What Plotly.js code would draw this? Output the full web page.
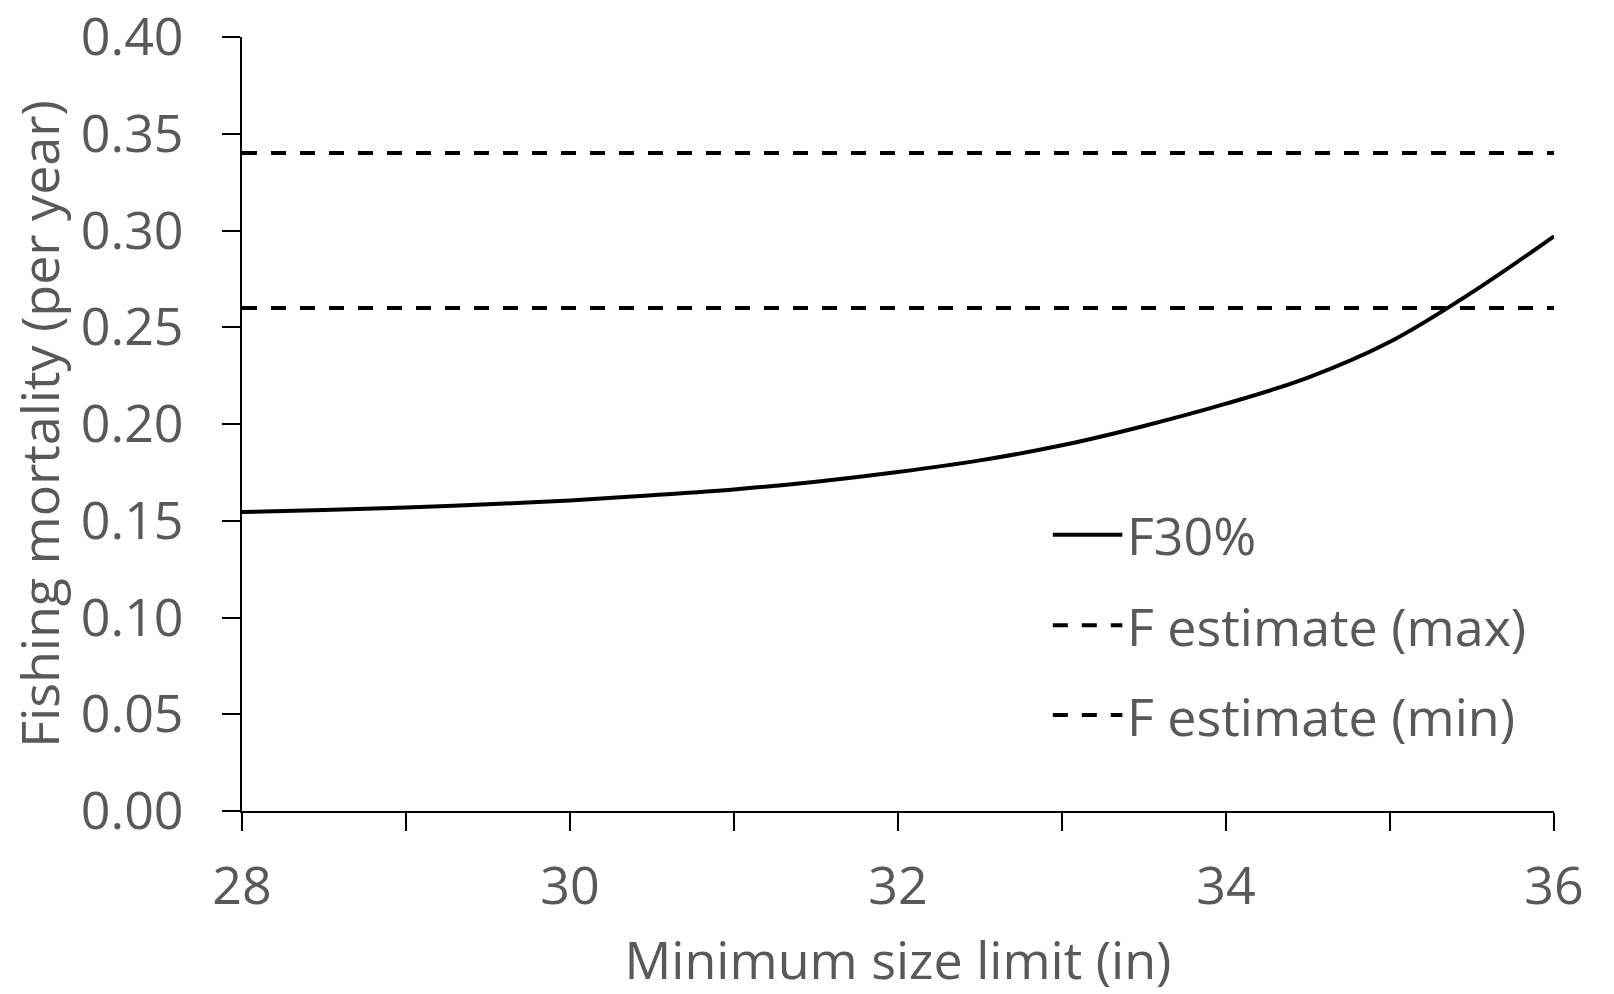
<!DOCTYPE html>
<html>
<head>
<meta charset="utf-8">
<script src="https://cdn.plot.ly/plotly-3.0.1.min.js"></script>
<style>
html,body{margin:0;padding:0;background:#fff;}
#chart{width:1614px;height:994px;}
</style>
</head>
<body>
<div id="chart"></div>
<script>
// Data
const sizeLimit = [28, 28.5, 29, 29.5, 30, 30.5, 31, 31.5, 32, 32.5, 33, 33.5, 34, 34.5, 35, 35.5, 36];
const f30 = [0.1545, 0.1555, 0.1568, 0.1585, 0.1605, 0.1632, 0.1662, 0.1702, 0.1752, 0.1812, 0.1890, 0.1990, 0.2105, 0.2240, 0.2425, 0.2680, 0.2970];
const fRange = [28, 36];
const fMax = [0.34, 0.34];
const fMin = [0.26, 0.26];
const seriesNames = ["F30%", "F estimate (max)", "F estimate (min)"];
const xTickVals = [28, 29, 30, 31, 32, 33, 34, 35, 36];
const xTickText = ["28", "", "30", "", "32", "", "34", "", "36"];
const yTickVals = [0, 0.05, 0.10, 0.15, 0.20, 0.25, 0.30, 0.35, 0.40];
const yTickText = ["0.00", "0.05", "0.10", "0.15", "0.20", "0.25", "0.30", "0.35", "0.40"];

const FONT = "Open Sans, Noto Sans, sans-serif";
const GREY = "#595959";
const FS = 52;
const DASH = "15px,14px";

const traces = [
  {x: sizeLimit, y: f30, mode: "lines", name: seriesNames[0],
   line: {color: "#000", width: 4, shape: "spline", smoothing: 1}, showlegend: false},
  {x: fRange, y: fMax, mode: "lines", name: seriesNames[1],
   line: {color: "#000", width: 4, dash: DASH}, showlegend: false},
  {x: fRange, y: fMin, mode: "lines", name: seriesNames[2],
   line: {color: "#000", width: 4, dash: DASH}, showlegend: false}
];

// custom legend (layout decoration, paper coordinates)
const legendY = [0.357, 0.24, 0.124];
const legendDash = ["solid", DASH, DASH];
const shapes = [];
const annotations = [];
seriesNames.forEach((n, i) => {
  shapes.push({type: "line", xref: "paper", yref: "paper",
    x0: 0.618, x1: 0.671, y0: legendY[i], y1: legendY[i],
    line: {color: "#000", width: 4, dash: legendDash[i]}});
  annotations.push({xref: "paper", yref: "paper", x: 0.673, y: legendY[i],
    xanchor: "left", yanchor: "middle", text: n, showarrow: false,
    font: {family: FONT, size: FS, color: GREY}});
});

const layout = {
  width: 1614, height: 994,
  margin: {l: 242, r: 60, t: 37, b: 183},
  paper_bgcolor: "#fff", plot_bgcolor: "#fff",
  font: {family: FONT, size: FS, color: GREY},
  showlegend: false,
  xaxis: {
    range: [28, 36], tickmode: "array", tickvals: xTickVals, ticktext: xTickText,
    showgrid: false, zeroline: false, showline: true, linecolor: "#000", linewidth: 2,
    ticks: "outside", ticklen: 18, tickwidth: 2, tickcolor: "#000",
    ticklabelstandoff: 11, ticklabeloverflow: "allow",
    tickfont: {family: FONT, size: FS, color: GREY},
    title: {text: "Minimum size limit (in)", font: {family: FONT, size: FS, color: GREY}, standoff: 37}
  },
  yaxis: {
    range: [0, 0.4], tickmode: "array", tickvals: yTickVals, ticktext: yTickText,
    showgrid: false, zeroline: false, showline: true, linecolor: "#000", linewidth: 2,
    ticks: "outside", ticklen: 18, tickwidth: 2, tickcolor: "#000",
    ticklabelstandoff: 28, ticklabeloverflow: "allow",
    tickfont: {family: FONT, size: FS, color: GREY},
    title: {text: "Fishing mortality (per year)", font: {family: FONT, size: FS, color: GREY}, standoff: 5}
  },
  shapes: shapes,
  annotations: annotations
};

Plotly.newPlot("chart", traces, layout, {displayModeBar: false, staticPlot: true});
</script>
</body>
</html>
